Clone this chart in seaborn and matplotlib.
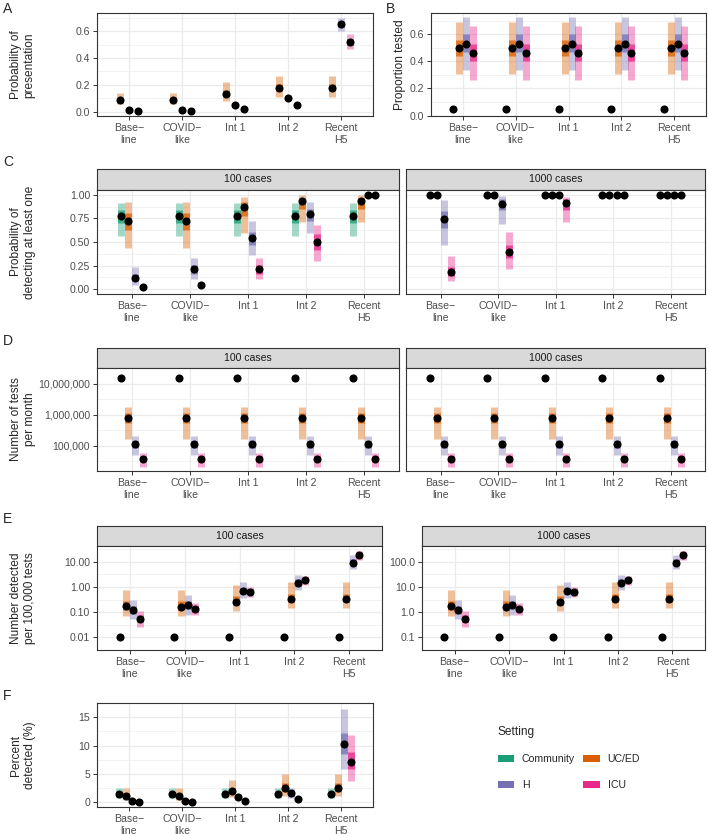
import numpy as np
import pandas as pd
import matplotlib
matplotlib.use("Agg")
import matplotlib.pyplot as plt
import seaborn as sns
from matplotlib.patches import Patch
from matplotlib.ticker import NullFormatter

# categories / settings
cats = ["Base\u2212\nline", "COVID\u2212\nlike", "Int 1", "Int 2", "Recent\nH5"]
settings = ["Community", "UC/ED", "H", "ICU"]

# A: probability of presentation (UC/ED, H, ICU)
a_sets = ["UC/ED", "H", "ICU"]
a_mid = [[0.088, 0.088, 0.133, 0.175, 0.175], [0.010, 0.014, 0.050, 0.098, 0.650], [0.004, 0.004, 0.018, 0.050, 0.520]]
a_lo95 = [[0.055, 0.055, 0.078, 0.105, 0.105], [0.008, 0.011, 0.045, 0.090, 0.600], [0.002, 0.002, 0.014, 0.044, 0.465]]
a_hi95 = [[0.140, 0.140, 0.220, 0.265, 0.265], [0.012, 0.017, 0.056, 0.106, 0.700], [0.006, 0.006, 0.022, 0.056, 0.575]]
a_lo50 = [[0.075, 0.075, 0.113, 0.150, 0.150], [0.009, 0.013, 0.048, 0.095, 0.632], [0.003, 0.003, 0.016, 0.048, 0.500]]
a_hi50 = [[0.103, 0.103, 0.158, 0.205, 0.205], [0.011, 0.015, 0.053, 0.102, 0.668], [0.005, 0.005, 0.020, 0.052, 0.540]]

# B: proportion tested
b_mid = [[0.049] * 5, [0.50] * 5, [0.53] * 5, [0.465] * 5]
b_lo95 = [[0.045] * 5, [0.31] * 5, [0.34] * 5, [0.265] * 5]
b_hi95 = [[0.053] * 5, [0.69] * 5, [0.73] * 5, [0.66] * 5]
b_lo50 = [[0.047] * 5, [0.44] * 5, [0.47] * 5, [0.40] * 5]
b_hi50 = [[0.051] * 5, [0.56] * 5, [0.60] * 5, [0.53] * 5]

# C: probability of detecting at least one
c100_mid = [[0.77] * 5, [0.72, 0.72, 0.865, 0.93, 0.93], [0.12, 0.21, 0.545, 0.795, 1.0], [0.02, 0.046, 0.21, 0.50, 1.0]]
c100_lo95 = [[0.56] * 5, [0.44, 0.44, 0.60, 0.71, 0.71], [0.05, 0.11, 0.36, 0.60, 0.99], [0.005, 0.02, 0.105, 0.30, 0.98]]
c100_hi95 = [[0.91] * 5, [0.92, 0.92, 0.98, 1.0, 1.0], [0.24, 0.33, 0.72, 0.92, 1.0], [0.045, 0.08, 0.33, 0.675, 1.0]]
c100_lo50 = [[0.70] * 5, [0.625, 0.625, 0.78, 0.85, 0.85], [0.09, 0.16, 0.47, 0.72, 0.995], [0.012, 0.033, 0.16, 0.42, 0.99]]
c100_hi50 = [[0.835] * 5, [0.81, 0.81, 0.92, 0.97, 0.97], [0.165, 0.26, 0.61, 0.85, 1.0], [0.03, 0.06, 0.26, 0.58, 1.0]]
c1000_mid = [[1.0] * 5, [1.0] * 5, [0.745, 0.90, 1.0, 1.0, 1.0], [0.186, 0.39, 0.91, 1.0, 1.0]]
c1000_lo95 = [[1.0] * 5, [1.0] * 5, [0.47, 0.69, 1.0, 1.0, 1.0], [0.09, 0.21, 0.71, 1.0, 1.0]]
c1000_hi95 = [[1.0] * 5, [1.0] * 5, [0.94, 0.99, 1.0, 1.0, 1.0], [0.35, 0.61, 0.98, 1.0, 1.0]]
c1000_lo50 = [[1.0] * 5, [1.0] * 5, [0.65, 0.84, 1.0, 1.0, 1.0], [0.14, 0.33, 0.84, 1.0, 1.0]]
c1000_hi50 = [[1.0] * 5, [1.0] * 5, [0.83, 0.95, 1.0, 1.0, 1.0], [0.24, 0.47, 0.95, 1.0, 1.0]]

# D: number of tests per month (same for both case counts)
d_mid = [[1.5e7] * 5, [7.5e5] * 5, [1.1e5] * 5, [3.8e4] * 5]
d_lo95 = [[1.4e7] * 5, [1.6e5] * 5, [4.8e4] * 5, [2.0e4] * 5]
d_hi95 = [[1.6e7] * 5, [1.8e6] * 5, [2.0e5] * 5, [5.9e4] * 5]
d_lo50 = [[1.45e7] * 5, [5.5e5] * 5, [8.5e4] * 5, [3.1e4] * 5]
d_hi50 = [[1.55e7] * 5, [1.1e6] * 5, [1.4e5] * 5, [4.5e4] * 5]

# E: number detected per 100,000 tests
e100_mid = [[0.01] * 5, [0.17, 0.16, 0.26, 0.34, 0.34], [0.123, 0.20, 0.70, 1.43, 9.2], [0.055, 0.135, 0.65, 1.85, 19.0]]
e100_lo95 = [[0.009] * 5, [0.07, 0.07, 0.11, 0.15, 0.15], [0.052, 0.081, 0.355, 0.74, 5.0], [0.026, 0.077, 0.41, 1.23, 12.0]]
e100_hi95 = [[0.011] * 5, [0.74, 0.74, 1.16, 1.55, 1.55], [0.31, 0.48, 1.55, 3.1, 19.0], [0.11, 0.24, 1.0, 2.8, 28.0]]
e100_lo50 = [[0.0095] * 5, [0.12, 0.12, 0.19, 0.25, 0.25], [0.086, 0.14, 0.52, 1.1, 7.2], [0.04, 0.10, 0.55, 1.55, 16.0]]
e100_hi50 = [[0.0105] * 5, [0.28, 0.28, 0.45, 0.55, 0.55], [0.17, 0.29, 0.95, 2.0, 12.5], [0.075, 0.18, 0.80, 2.2, 23.0]]
e1000_mid = [[0.1] * 5, [1.7, 1.6, 2.6, 3.4, 3.4], [1.23, 2.0, 7.0, 14.3, 92], [0.55, 1.35, 6.5, 18.5, 190]]
e1000_lo95 = [[0.09] * 5, [0.7, 0.7, 1.1, 1.5, 1.5], [0.52, 0.81, 3.55, 7.4, 50], [0.26, 0.77, 4.1, 12.3, 120]]
e1000_hi95 = [[0.11] * 5, [7.4, 7.4, 11.6, 15.5, 15.5], [3.1, 4.8, 15.5, 31, 190], [1.1, 2.4, 10, 28, 280]]
e1000_lo50 = [[0.095] * 5, [1.2, 1.2, 1.9, 2.5, 2.5], [0.86, 1.4, 5.2, 11, 72], [0.4, 1.0, 5.5, 15.5, 160]]
e1000_hi50 = [[0.105] * 5, [2.8, 2.8, 4.5, 5.5, 5.5], [1.7, 2.9, 9.5, 20, 125], [0.75, 1.8, 8.0, 22, 230]]

# F: percent detected
f_mid = [[1.44] * 5, [1.2, 1.2, 2.0, 2.6, 2.6], [0.23, 0.25, 0.87, 1.56, 10.3], [0.06, 0.1, 0.23, 0.63, 7.15]]
f_lo95 = [[0.75] * 5, [0.5, 0.5, 1.0, 1.15, 1.15], [0.1, 0.12, 0.5, 0.7, 5.9], [0.02, 0.04, 0.1, 0.35, 3.75]]
f_hi95 = [[2.5] * 5, [2.5, 2.5, 4.0, 5.0, 5.0], [0.4, 0.45, 1.3, 2.5, 16.4], [0.12, 0.18, 0.4, 1.0, 11.8]]
f_lo50 = [[1.2] * 5, [0.9, 0.9, 1.5, 1.9, 1.9], [0.17, 0.19, 0.7, 1.2, 8.5], [0.04, 0.07, 0.17, 0.5, 5.9]]
f_hi50 = [[1.7] * 5, [1.6, 1.6, 2.6, 3.4, 3.4], [0.3, 0.33, 1.05, 1.95, 12.2], [0.08, 0.13, 0.3, 0.78, 8.8]]

sns.set_style("white")
plt.rcParams["font.family"] = ["Liberation Sans", "DejaVu Sans"]
pal = dict(zip(settings, sns.color_palette("Dark2", 4)))

W, H = 709, 834
fig = plt.figure(figsize=(W / 100, H / 100), dpi=100)
BORDER = "#333333"
TICK = "#4D4D4D"
GRID = "#EBEBEB"
FS = 7.6


def px_axes(l, t, r, b):
    return fig.add_axes([l / W, 1 - b / H, (r - l) / W, (b - t) / H])


def draw(ax, sets, mid, lo95, hi95, lo50, hi50):
    n = len(sets)
    offs = (np.arange(n) - (n - 1) / 2) * 0.5 / n
    rows = []
    for i, s in enumerate(sets):
        for j in range(len(cats)):
            rows.append(dict(setting=s, x=j + offs[i], mid=mid[i][j], lo95=lo95[i][j],
                             hi95=hi95[i][j], lo50=lo50[i][j], hi50=hi50[i][j]))
    df = pd.DataFrame(rows)
    cols = [pal[s] for s in df["setting"]]
    for lo, hi, a in [("lo95", "hi95", 0.4), ("lo50", "hi50", 0.75)]:
        lc = ax.vlines(df["x"], df[lo], df[hi], colors=cols, alpha=a, lw=5, zorder=2)
        lc.set_capstyle("butt")
    sns.scatterplot(data=df, x="x", y="mid", color="black", s=34, linewidth=0,
                    ax=ax, legend=False, zorder=3)


def style(ax, ylim, yticks, ylabels, yminor, log=False):
    if log:
        ax.set_yscale("log")
    ax.set_xlim(-0.6, 4.6)
    ax.set_ylim(ylim)
    ax.set_xticks(range(5))
    ax.set_xticklabels(cats)
    ax.set_yticks(yticks)
    ax.set_yticklabels(ylabels)
    ax.set_yticks(yminor, minor=True)
    ax.yaxis.set_minor_formatter(NullFormatter())
    ax.xaxis.set_minor_locator(matplotlib.ticker.NullLocator())
    ax.grid(which="major", color=GRID, lw=0.9)
    ax.grid(which="minor", axis="y", color=GRID, lw=0.45)
    ax.set_axisbelow(True)
    ax.tick_params(which="major", length=3, width=0.7, color=BORDER, labelsize=FS,
                   labelcolor=TICK, pad=2, bottom=True, left=True)
    ax.tick_params(which="minor", length=0)
    ax.set_xlabel("")
    ax.set_ylabel("")
    for sp in ax.spines.values():
        sp.set_color(BORDER)
        sp.set_linewidth(0.8)


def strip(l, t, r, b, text):
    s = px_axes(l, t, r, b)
    s.set_facecolor("#D9D9D9")
    s.set_xticks([])
    s.set_yticks([])
    for sp in s.spines.values():
        sp.set_color(BORDER)
        sp.set_linewidth(0.8)
    s.text(0.5, 0.5, text, ha="center", va="center", fontsize=FS, color="#1A1A1A",
           transform=s.transAxes)


def ylab(x, y, text):
    fig.text(x / W, 1 - y / H, text, rotation=90, ha="center", va="center",
             fontsize=8.6, multialignment="center", linespacing=1.15)


def letter(x, y, text):
    fig.text(x / W, 1 - y / H, text, ha="left", va="top", fontsize=10)


# A
ax = px_axes(97, 13, 373, 116)
draw(ax, a_sets, a_mid, a_lo95, a_hi95, a_lo50, a_hi50)
style(ax, (-0.033, 0.735), [0, 0.2, 0.4, 0.6], ["0.0", "0.2", "0.4", "0.6"], [0.1, 0.3, 0.5, 0.7])
ylab(23, 65, "Probability of\npresentation")
letter(3, 2, "A")

# B
ax = px_axes(431, 13, 706, 116)
draw(ax, settings, b_mid, b_lo95, b_hi95, b_lo50, b_hi50)
style(ax, (-0.003, 0.757), [0, 0.2, 0.4, 0.6], ["0.0", "0.2", "0.4", "0.6"], [0.1, 0.3, 0.5, 0.7])
ylab(400, 65, "Proportion tested")
letter(386, 2, "B")

# C
cticks = [0, 0.25, 0.5, 0.75, 1.0]
clabs = ["0.00", "0.25", "0.50", "0.75", "1.00"]
cminor = [0.125, 0.375, 0.625, 0.875]
strip(97, 169, 399, 190, "100 cases")
ax = px_axes(97, 190, 399, 294)
draw(ax, settings, c100_mid, c100_lo95, c100_hi95, c100_lo50, c100_hi50)
style(ax, (-0.05, 1.05), cticks, clabs, cminor)
strip(406, 169, 705, 190, "1000 cases")
ax = px_axes(406, 190, 705, 294)
draw(ax, settings, c1000_mid, c1000_lo95, c1000_hi95, c1000_lo50, c1000_hi50)
style(ax, (-0.05, 1.05), cticks, [], cminor)
ax.tick_params(axis="y", length=0)
ylab(23, 242, "Probability of\ndetecting at least one")
letter(3, 155, "C")

# D
dticks = [1e5, 1e6, 1e7]
dlabs = ["100,000", "1,000,000", "10,000,000"]
dminor = [10 ** 4.5, 10 ** 5.5, 10 ** 6.5, 10 ** 7.5]
strip(97, 348, 399, 368, "100 cases")
ax = px_axes(97, 368, 399, 471)
draw(ax, settings, d_mid, d_lo95, d_hi95, d_lo50, d_hi50)
style(ax, (10 ** 4.18, 10 ** 7.42), dticks, dlabs, dminor, log=True)
strip(406, 348, 705, 368, "1000 cases")
ax = px_axes(406, 368, 705, 471)
draw(ax, settings, d_mid, d_lo95, d_hi95, d_lo50, d_hi50)
style(ax, (10 ** 4.18, 10 ** 7.42), dticks, [], dminor, log=True)
ax.tick_params(axis="y", length=0)
ylab(23, 419, "Number of tests\nper month")
letter(3, 334, "D")

# E
strip(97, 526, 382, 546, "100 cases")
ax = px_axes(97, 546, 382, 650)
draw(ax, settings, e100_mid, e100_lo95, e100_hi95, e100_lo50, e100_hi50)
style(ax, (10 ** -2.37, 10 ** 1.63), [0.01, 0.1, 1, 10], ["0.01", "0.10", "1.00", "10.00"],
      [10 ** -2.5, 10 ** -1.5, 10 ** -0.5, 10 ** 0.5, 10 ** 1.5], log=True)
strip(422, 526, 705, 546, "1000 cases")
ax = px_axes(422, 546, 705, 650)
draw(ax, settings, e1000_mid, e1000_lo95, e1000_hi95, e1000_lo50, e1000_hi50)
style(ax, (10 ** -1.37, 10 ** 2.63), [0.1, 1, 10, 100], ["0.1", "1.0", "10.0", "100.0"],
      [10 ** -1.5, 10 ** -0.5, 10 ** 0.5, 10 ** 1.5, 10 ** 2.5], log=True)
ylab(23, 598, "Number detected\nper 100,000 tests")
letter(3, 512, "E")

# F
ax = px_axes(97, 703, 373, 807)
draw(ax, settings, f_mid, f_lo95, f_hi95, f_lo50, f_hi50)
style(ax, (-0.82, 17.2), [0, 5, 10, 15], ["0", "5", "10", "15"], [2.5, 7.5, 12.5, 17.5])
ylab(23, 755, "Percent\ndetected (%)")
letter(3, 689, "F")

# legend
order = ["Community", "H", "UC/ED", "ICU"]
handles = [Patch(facecolor=pal[s], edgecolor="none") for s in order]
fig.legend(handles, order, ncol=2, loc="upper left", bbox_to_anchor=(488 / W, 1 - 717 / H),
           frameon=False, title="Setting", fontsize=FS, title_fontsize=8.6,
           handlelength=1.6, handleheight=0.55, handletextpad=0.7, columnspacing=0.8,
           labelspacing=1.5, alignment="left")

fig.savefig("out.png", dpi=100)
